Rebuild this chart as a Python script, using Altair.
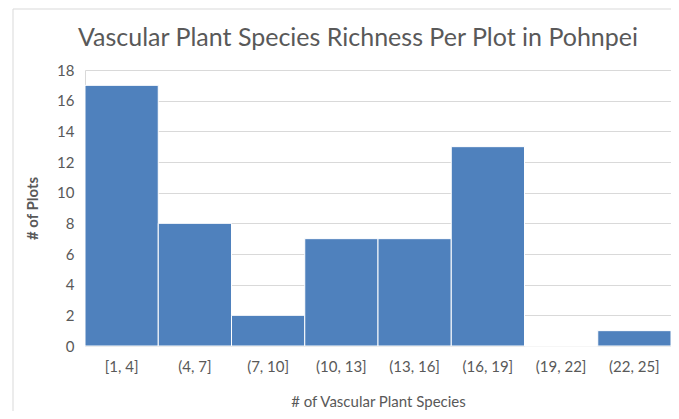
import altair as alt
import pandas as pd

categories = ["[1, 4]", "(4, 7]", "(7, 10]", "(10, 13]", "(13, 16]", "(16, 19]", "(19, 22]", "(22, 25]"]
counts = [17, 8, 2, 7, 7, 13, 0, 1]
y_ticks = [0, 2, 4, 6, 8, 10, 12, 14, 16, 18]

df = pd.DataFrame({"bin": categories, "count": counts})
FONT = "Lato"
TXT = "#595959"
GRID = "#d9d9d9"

bars = alt.Chart(df).mark_bar(color="#4f81bd", stroke="white", strokeWidth=1).encode(
    x=alt.X("bin:N", sort=categories,
            scale=alt.Scale(paddingInner=0, paddingOuter=0),
            axis=alt.Axis(title="# of Vascular Plant Species", labelAngle=0, ticks=False, grid=False,
                          domainColor=GRID, labelPadding=13, titlePadding=20,
                          labelFontSize=15, titleFontSize=15, titleFontWeight="normal",
                          labelColor=TXT, titleColor=TXT, labelFont=FONT, titleFont=FONT)),
    y=alt.Y("count:Q", scale=alt.Scale(domain=[0, 18], nice=False),
            axis=alt.Axis(title="# of Plots", values=y_ticks, ticks=False, domain=True, grid=True,
                          domainColor=GRID, gridColor=GRID, labelPadding=11, titlePadding=16,
                          labelFontSize=15, titleFontSize=15, titleFontWeight="bold",
                          labelColor=TXT, titleColor=TXT, labelFont=FONT, titleFont=FONT)),
)

border_df = pd.DataFrame({"k": [0]})
left_border = alt.Chart(border_df).mark_rule(color=GRID, strokeWidth=1, clip=False).encode(
    x=alt.value(-72), y=alt.value(-61), y2=alt.value(360))
top_border = alt.Chart(border_df).mark_rule(color=GRID, strokeWidth=1, clip=False).encode(
    x=alt.value(-72), x2=alt.value(586), y=alt.value(-61))

chart = alt.layer(bars, left_border, top_border).properties(
    width=586, height=276,
    title=alt.TitleParams("Vascular Plant Species Richness Per Plot in Pohnpei",
                          font=FONT, fontSize=25, fontWeight="normal", color=TXT,
                          anchor="middle", dx=-20, offset=-42),
    autosize=alt.AutoSizeParams(type="none"),
    padding={"left": 77, "top": 62, "right": 0, "bottom": 65},
).configure_view(stroke=None)

chart.save("out.html", embed_options={"renderer": "svg", "actions": False})
